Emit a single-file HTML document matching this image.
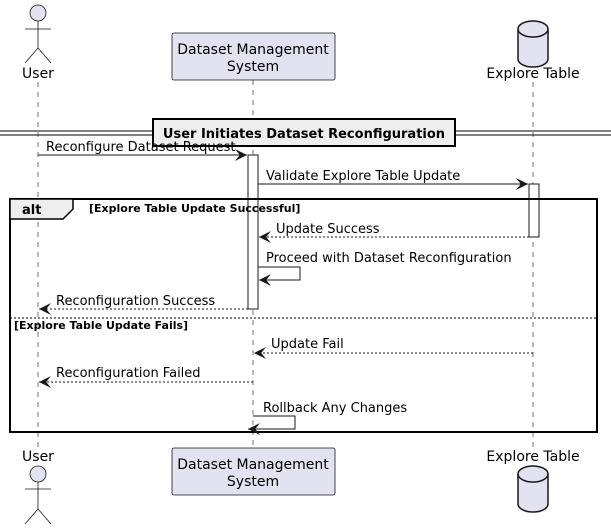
<!DOCTYPE html>
<html><head><meta charset="utf-8"><style>
html,body{margin:0;padding:0;background:#fff;}
svg{display:block;font-family:"DejaVu Sans","Liberation Sans",sans-serif;}
</style></head><body>
<svg width="611" height="529" viewBox="0 0 611 529" xmlns="http://www.w3.org/2000/svg">
<defs>
<marker id="a" viewBox="0 0 10 10" refX="10" refY="5" markerWidth="12" markerHeight="12" markerUnits="userSpaceOnUse" orient="auto">
<path d="M0,0 L10,5 L0,10 L4,5 Z" fill="#181818"/></marker>
</defs>
<g stroke="#181818" stroke-width="0.6" stroke-dasharray="5,5">
<line x1="38" y1="82" x2="38" y2="448"/>
<line x1="253" y1="80" x2="253" y2="448"/>
<line x1="533" y1="82" x2="533" y2="448"/>
</g>
<g stroke="#181818" stroke-width="0.8" fill="#E2E2F0">
<circle cx="38" cy="13" r="8"/>
<line x1="38" y1="21" x2="38" y2="48"/><line x1="25" y1="29" x2="51" y2="29"/>
<line x1="38" y1="48" x2="25" y2="63"/><line x1="38" y1="48" x2="51" y2="63"/>
<rect x="172" y="33" width="163" height="47" rx="2"/>
<circle cx="38" cy="474" r="8"/>
<line x1="38" y1="482" x2="38" y2="509"/><line x1="25" y1="489" x2="51" y2="489"/>
<line x1="38" y1="509" x2="25" y2="524"/><line x1="38" y1="509" x2="51" y2="524"/>
<rect x="172" y="448" width="163" height="47" rx="2"/>
</g>
<g stroke="#181818" stroke-width="1.5" fill="#E2E2F0">
<path d="M518,29 V59 A15,8 0 0 0 548,59 V29 A15,8 0 0 0 518,29 Z"/>
<path d="M518,29 A15,8 0 0 0 548,29" fill="none"/>
<path d="M518,474 V504 A15,8 0 0 0 548,504 V474 A15,8 0 0 0 518,474 Z"/>
<path d="M518,474 A15,8 0 0 0 548,474" fill="none"/>
</g>
<g font-size="14" fill="#000" text-anchor="middle">
<text x="38" y="78">User</text>
<text x="253" y="54">Dataset Management</text>
<text x="253" y="71">System</text>
<text x="533" y="78">Explore Table</text>
<text x="38" y="461">User</text>
<text x="253" y="469">Dataset Management</text>
<text x="253" y="486">System</text>
<text x="533" y="461">Explore Table</text>
</g>
<g stroke="#000">
<line x1="0" y1="131" x2="611" y2="131" stroke-width="1"/>
<line x1="0" y1="135" x2="611" y2="135" stroke-width="1"/>
<rect x="153" y="119" width="302" height="27" fill="#EEEEEE" stroke-width="2"/>
</g>
<text x="304" y="138" font-size="13" font-weight="bold" text-anchor="middle">User Initiates Dataset Reconfiguration</text>
<rect x="248" y="155" width="10" height="154" fill="#fff" stroke="#181818"/>
<rect x="529" y="184" width="10" height="53" fill="#fff" stroke="#181818"/>
<rect x="10" y="199" width="587" height="233" fill="none" stroke="#000" stroke-width="2"/>
<path d="M10,199 H73 V209 L63,219 H10 Z" fill="#EEEEEE" stroke="#000" stroke-width="1.5"/>
<text x="22" y="214" font-size="13" font-weight="bold">alt</text>
<text x="89" y="212" font-size="11" font-weight="bold">[Explore Table Update Successful]</text>
<line x1="10" y1="318" x2="597" y2="318" stroke="#000" stroke-dasharray="2,2"/>
<text x="14" y="329" font-size="11" font-weight="bold">[Explore Table Update Fails]</text>
<g stroke="#181818" fill="none" marker-end="url(#a)">
<line x1="38" y1="155" x2="247" y2="155"/>
<line x1="258" y1="184" x2="528" y2="184"/>
<line x1="529" y1="237" x2="259" y2="237" stroke-dasharray="2,2"/>
<polyline points="258,267 300,267 300,280 259,280"/>
<line x1="248" y1="309" x2="39" y2="309" stroke-dasharray="2,2"/>
<line x1="533" y1="353" x2="254" y2="353" stroke-dasharray="2,2"/>
<line x1="253" y1="382" x2="39" y2="382" stroke-dasharray="2,2"/>
<polyline points="253,416 295,416 295,429 248,429"/>
</g>
<g font-size="13" fill="#000">
<text x="46" y="151">Reconfigure Dataset Request</text>
<text x="266" y="180">Validate Explore Table Update</text>
<text x="276" y="233">Update Success</text>
<text x="266" y="262">Proceed with Dataset Reconfiguration</text>
<text x="56" y="305">Reconfiguration Success</text>
<text x="271" y="348">Update Fail</text>
<text x="56" y="377">Reconfiguration Failed</text>
<text x="263" y="412">Rollback Any Changes</text>
</g>
</svg>
</body></html>
